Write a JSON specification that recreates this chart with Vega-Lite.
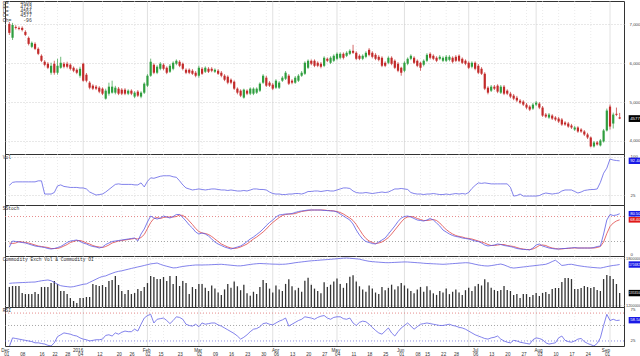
{
"$schema":"https://vega.github.io/schema/vega-lite/v6.json",
"padding":0,"spacing":0,"bounds":"flush","background":"white",
"config":{"view":{"stroke":"#333","strokeWidth":1},"axis":{"labelFont":"Liberation Sans","labelColor":"#444"}},
"datasets":{
"info":[{"k":"O=","v":"4608"},{"k":"H=","v":"4723"},{"k":"L=","v":"4561"},{"k":"C=","v":"4577"},{"k":"Ch=","v":"-96"}],
"t":[{"d":"2015-12-01","m":0},{"d":"2015-12-08","m":0},{"d":"2015-12-16","m":0},{"d":"2015-12-22","m":0},{"d":"2015-12-28","m":0},{"d":"2016-01-04","m":1},{"d":"2016-01-12","m":0},{"d":"2016-01-20","m":0},{"d":"2016-01-26","m":0},{"d":"2016-02-01","m":1},{"d":"2016-02-02","m":0},{"d":"2016-02-15","m":0},{"d":"2016-02-23","m":0},{"d":"2016-03-01","m":1},{"d":"2016-03-02","m":0},{"d":"2016-03-09","m":0},{"d":"2016-03-16","m":0},{"d":"2016-03-23","m":0},{"d":"2016-03-30","m":0},{"d":"2016-04-01","m":1},{"d":"2016-04-06","m":0},{"d":"2016-04-13","m":0},{"d":"2016-04-20","m":0},{"d":"2016-04-27","m":0},{"d":"2016-05-03","m":1},{"d":"2016-05-04","m":0},{"d":"2016-05-11","m":0},{"d":"2016-05-18","m":0},{"d":"2016-05-25","m":0},{"d":"2016-06-01","m":1},{"d":"2016-06-08","m":0},{"d":"2016-06-15","m":0},{"d":"2016-06-22","m":0},{"d":"2016-06-28","m":0},{"d":"2016-07-01","m":1},{"d":"2016-07-06","m":0},{"d":"2016-07-13","m":0},{"d":"2016-07-20","m":0},{"d":"2016-07-27","m":0},{"d":"2016-08-01","m":1},{"d":"2016-08-03","m":0},{"d":"2016-08-10","m":0},{"d":"2016-08-17","m":0},{"d":"2016-08-24","m":0},{"d":"2016-09-01","m":1}],
"p":[
{"d":"2015-12-01","o":7013,"h":7065,"l":6730,"c":6783,"hv":44,"k":14,"sd":22,"v":1430000,"oi":1477000,"r":16},
{"d":"2015-12-02","o":6654,"h":7040,"l":6600,"c":6988,"hv":50,"k":26,"sd":21,"v":1443000,"oi":1481000,"r":30},
{"d":"2015-12-03","o":6936,"h":6980,"l":6870,"c":6911,"hv":51,"k":25,"sd":22,"v":1443000,"oi":1483000,"r":29},
{"d":"2015-12-04","o":6911,"h":6950,"l":6850,"c":6885,"hv":51,"k":24,"sd":25,"v":1443000,"oi":1485000,"r":28},
{"d":"2015-12-07","o":6911,"h":6950,"l":6820,"c":6859,"hv":51,"k":23,"sd":24,"v":1354000,"oi":1487000,"r":27},
{"d":"2015-12-08","o":6808,"h":6850,"l":6700,"c":6731,"hv":51,"k":22,"sd":23,"v":1341000,"oi":1489000,"r":26},
{"d":"2015-12-09","o":6654,"h":6690,"l":6460,"c":6500,"hv":51,"k":20,"sd":22,"v":1341000,"oi":1491000,"r":25},
{"d":"2015-12-10","o":6424,"h":6560,"l":6390,"c":6526,"hv":51,"k":18,"sd":20,"v":1341000,"oi":1493000,"r":24},
{"d":"2015-12-11","o":6500,"h":6540,"l":6340,"c":6372,"hv":51,"k":16,"sd":18,"v":1367000,"oi":1494000,"r":22},
{"d":"2015-12-14","o":6372,"h":6410,"l":6210,"c":6244,"hv":53,"k":15,"sd":16,"v":1341000,"oi":1502000,"r":22},
{"d":"2015-12-15","o":6193,"h":6230,"l":6030,"c":6065,"hv":53,"k":14,"sd":15,"v":1430000,"oi":1510000,"r":21},
{"d":"2015-12-16","o":6039,"h":6080,"l":5920,"c":5962,"hv":27,"k":13,"sd":14,"v":1430000,"oi":1515000,"r":20},
{"d":"2015-12-17","o":5988,"h":6030,"l":5850,"c":5885,"hv":27,"k":11,"sd":13,"v":1430000,"oi":1520000,"r":18},
{"d":"2015-12-18","o":5757,"h":6015,"l":5706,"c":5936,"hv":27,"k":10,"sd":11,"v":1481000,"oi":1510000,"r":17},
{"d":"2015-12-21","o":5988,"h":6065,"l":5706,"c":5757,"hv":30,"k":11,"sd":11,"v":1507000,"oi":1490000,"r":22},
{"d":"2015-12-22","o":5757,"h":6116,"l":5706,"c":5936,"hv":43,"k":13,"sd":11,"v":1469000,"oi":1465000,"r":32},
{"d":"2015-12-23","o":5885,"h":6167,"l":5859,"c":6013,"hv":45,"k":15,"sd":13,"v":1380000,"oi":1447000,"r":35},
{"d":"2015-12-24","o":5988,"h":6030,"l":5870,"c":5911,"hv":42,"k":19,"sd":16,"v":1380000,"oi":1440000,"r":38},
{"d":"2015-12-25","o":5988,"h":6040,"l":5870,"c":5911,"hv":41,"k":23,"sd":19,"v":1341000,"oi":1435000,"r":37},
{"d":"2015-12-28","o":5962,"h":6000,"l":5820,"c":5859,"hv":40,"k":26,"sd":23,"v":1290000,"oi":1430000,"r":36},
{"d":"2015-12-29","o":5885,"h":5920,"l":5770,"c":5808,"hv":40,"k":27,"sd":25,"v":1252000,"oi":1435000,"r":34},
{"d":"2015-12-30","o":5834,"h":5870,"l":5720,"c":5757,"hv":40,"k":28,"sd":27,"v":1227000,"oi":1445000,"r":33},
{"d":"2015-12-31","o":5680,"h":5911,"l":5629,"c":5859,"hv":39,"k":25,"sd":27,"v":1290000,"oi":1455000,"r":30},
{"d":"2016-01-04","o":5988,"h":6013,"l":5526,"c":5552,"hv":39,"k":22,"sd":25,"v":1290000,"oi":1465000,"r":28},
{"d":"2016-01-05","o":5706,"h":5750,"l":5510,"c":5552,"hv":37,"k":20,"sd":22,"v":1303000,"oi":1470000,"r":27},
{"d":"2016-01-06","o":5501,"h":5540,"l":5330,"c":5372,"hv":31,"k":17,"sd":20,"v":1303000,"oi":1490000,"r":25},
{"d":"2016-01-07","o":5424,"h":5460,"l":5310,"c":5347,"hv":28,"k":15,"sd":17,"v":1469000,"oi":1510000,"r":26},
{"d":"2016-01-08","o":5398,"h":5440,"l":5310,"c":5347,"hv":25,"k":14,"sd":15,"v":1456000,"oi":1530000,"r":27},
{"d":"2016-01-11","o":5372,"h":5410,"l":5230,"c":5270,"hv":26,"k":12,"sd":14,"v":1443000,"oi":1550000,"r":27},
{"d":"2016-01-12","o":5347,"h":5380,"l":5180,"c":5218,"hv":27,"k":14,"sd":13,"v":1456000,"oi":1565000,"r":28},
{"d":"2016-01-13","o":5090,"h":5347,"l":5065,"c":5295,"hv":31,"k":19,"sd":15,"v":1430000,"oi":1572000,"r":34},
{"d":"2016-01-14","o":5218,"h":5501,"l":5167,"c":5398,"hv":36,"k":22,"sd":18,"v":1507000,"oi":1590000,"r":35},
{"d":"2016-01-15","o":5244,"h":5552,"l":5218,"c":5398,"hv":41,"k":25,"sd":22,"v":1520000,"oi":1605000,"r":33},
{"d":"2016-01-18","o":5244,"h":5420,"l":5200,"c":5372,"hv":46,"k":26,"sd":24,"v":1571000,"oi":1620000,"r":38},
{"d":"2016-01-19","o":5347,"h":5390,"l":5180,"c":5218,"hv":47,"k":27,"sd":26,"v":1456000,"oi":1630000,"r":36},
{"d":"2016-01-20","o":5321,"h":5360,"l":5180,"c":5218,"hv":46,"k":28,"sd":27,"v":1380000,"oi":1637000,"r":39},
{"d":"2016-01-21","o":5321,"h":5360,"l":5180,"c":5218,"hv":46,"k":29,"sd":28,"v":1341000,"oi":1647000,"r":41},
{"d":"2016-01-22","o":5218,"h":5330,"l":5180,"c":5295,"hv":46,"k":30,"sd":29,"v":1392000,"oi":1657000,"r":40},
{"d":"2016-01-25","o":5295,"h":5330,"l":5180,"c":5218,"hv":46,"k":31,"sd":30,"v":1341000,"oi":1667000,"r":40},
{"d":"2016-01-26","o":5142,"h":5280,"l":5100,"c":5244,"hv":45,"k":32,"sd":31,"v":1354000,"oi":1677000,"r":44},
{"d":"2016-01-27","o":5270,"h":5310,"l":5130,"c":5167,"hv":45,"k":26,"sd":30,"v":1405000,"oi":1686000,"r":41},
{"d":"2016-01-28","o":5142,"h":5280,"l":5100,"c":5244,"hv":49,"k":40,"sd":33,"v":1380000,"oi":1695000,"r":52},
{"d":"2016-01-29","o":5244,"h":5510,"l":5210,"c":5475,"hv":41,"k":50,"sd":39,"v":1430000,"oi":1705000,"r":62},
{"d":"2016-02-01","o":5424,"h":5720,"l":5390,"c":5680,"hv":52,"k":64,"sd":51,"v":1481000,"oi":1715000,"r":66},
{"d":"2016-02-02","o":5680,"h":6116,"l":5654,"c":6039,"hv":59,"k":76,"sd":63,"v":1571000,"oi":1725000,"r":68},
{"d":"2016-02-03","o":5962,"h":6000,"l":5720,"c":5757,"hv":58,"k":72,"sd":71,"v":1558000,"oi":1730000,"r":54},
{"d":"2016-02-04","o":5757,"h":5950,"l":5720,"c":5911,"hv":60,"k":70,"sd":73,"v":1532000,"oi":1736000,"r":60},
{"d":"2016-02-05","o":5859,"h":6030,"l":5820,"c":5988,"hv":62,"k":72,"sd":71,"v":1532000,"oi":1720000,"r":61},
{"d":"2016-02-15","o":5962,"h":6000,"l":5820,"c":5859,"hv":63,"k":76,"sd":73,"v":1558000,"oi":1706000,"r":62},
{"d":"2016-02-16","o":5885,"h":5920,"l":5720,"c":5757,"hv":63,"k":74,"sd":74,"v":1507000,"oi":1695000,"r":58},
{"d":"2016-02-17","o":5783,"h":5980,"l":5750,"c":5936,"hv":63,"k":72,"sd":74,"v":1571000,"oi":1684000,"r":53},
{"d":"2016-02-18","o":5859,"h":6050,"l":5820,"c":6013,"hv":61,"k":75,"sd":74,"v":1469000,"oi":1674000,"r":58},
{"d":"2016-02-19","o":5988,"h":6100,"l":5950,"c":6065,"hv":60,"k":79,"sd":75,"v":1571000,"oi":1676000,"r":64},
{"d":"2016-02-22","o":6039,"h":6080,"l":5900,"c":5936,"hv":53,"k":79,"sd":78,"v":1443000,"oi":1685000,"r":63},
{"d":"2016-02-23","o":5988,"h":6020,"l":5820,"c":5859,"hv":45,"k":73,"sd":77,"v":1507000,"oi":1692000,"r":60},
{"d":"2016-02-24","o":5834,"h":5870,"l":5720,"c":5757,"hv":39,"k":66,"sd":73,"v":1481000,"oi":1698000,"r":52},
{"d":"2016-02-25","o":5834,"h":5870,"l":5720,"c":5757,"hv":37,"k":58,"sd":66,"v":1341000,"oi":1703000,"r":50},
{"d":"2016-02-26","o":5808,"h":5850,"l":5700,"c":5731,"hv":35,"k":52,"sd":59,"v":1430000,"oi":1707000,"r":49},
{"d":"2016-02-29","o":5757,"h":5800,"l":5640,"c":5680,"hv":36,"k":44,"sd":51,"v":1405000,"oi":1711000,"r":52},
{"d":"2016-03-01","o":5680,"h":5936,"l":5629,"c":5885,"hv":37,"k":40,"sd":45,"v":1469000,"oi":1711000,"r":48},
{"d":"2016-03-02","o":5859,"h":5900,"l":5700,"c":5731,"hv":36,"k":42,"sd":42,"v":1469000,"oi":1711000,"r":54},
{"d":"2016-03-03","o":5783,"h":5920,"l":5750,"c":5885,"hv":35,"k":40,"sd":41,"v":1420000,"oi":1712000,"r":52},
{"d":"2016-03-04","o":5859,"h":5900,"l":5750,"c":5783,"hv":36,"k":36,"sd":39,"v":1380000,"oi":1713000,"r":53},
{"d":"2016-03-07","o":5859,"h":5900,"l":5770,"c":5808,"hv":37,"k":30,"sd":35,"v":1450000,"oi":1715000,"r":54},
{"d":"2016-03-08","o":5783,"h":5870,"l":5750,"c":5834,"hv":37,"k":24,"sd":30,"v":1410000,"oi":1717000,"r":54},
{"d":"2016-03-09","o":5808,"h":5850,"l":5700,"c":5731,"hv":36,"k":20,"sd":25,"v":1360000,"oi":1719000,"r":51},
{"d":"2016-03-10","o":5757,"h":5800,"l":5640,"c":5680,"hv":35,"k":17,"sd":20,"v":1330000,"oi":1720000,"r":49},
{"d":"2016-03-11","o":5680,"h":5720,"l":5540,"c":5577,"hv":35,"k":14,"sd":17,"v":1400000,"oi":1716000,"r":46},
{"d":"2016-03-14","o":5654,"h":5690,"l":5460,"c":5501,"hv":34,"k":12,"sd":14,"v":1470000,"oi":1712000,"r":43},
{"d":"2016-03-15","o":5577,"h":5610,"l":5460,"c":5501,"hv":35,"k":10,"sd":12,"v":1420000,"oi":1708000,"r":40},
{"d":"2016-03-16","o":5526,"h":5560,"l":5310,"c":5347,"hv":34,"k":12,"sd":11,"v":1500000,"oi":1704000,"r":37},
{"d":"2016-03-17","o":5347,"h":5380,"l":5200,"c":5244,"hv":33,"k":14,"sd":12,"v":1440000,"oi":1700000,"r":33},
{"d":"2016-03-18","o":5295,"h":5330,"l":5130,"c":5167,"hv":33,"k":16,"sd":14,"v":1390000,"oi":1700000,"r":28},
{"d":"2016-03-21","o":5116,"h":5347,"l":5090,"c":5321,"hv":34,"k":20,"sd":17,"v":1460000,"oi":1705000,"r":31},
{"d":"2016-03-22","o":5295,"h":5330,"l":5180,"c":5218,"hv":33,"k":25,"sd":20,"v":1350000,"oi":1712000,"r":35},
{"d":"2016-03-23","o":5218,"h":5380,"l":5180,"c":5347,"hv":35,"k":30,"sd":25,"v":1320000,"oi":1718000,"r":40},
{"d":"2016-03-24","o":5218,"h":5380,"l":5180,"c":5347,"hv":37,"k":34,"sd":30,"v":1370000,"oi":1723000,"r":44},
{"d":"2016-03-25","o":5244,"h":5380,"l":5210,"c":5347,"hv":37,"k":39,"sd":34,"v":1340000,"oi":1727000,"r":45},
{"d":"2016-03-28","o":5295,"h":5510,"l":5260,"c":5475,"hv":36,"k":44,"sd":39,"v":1430000,"oi":1730000,"r":48},
{"d":"2016-03-29","o":5501,"h":5720,"l":5470,"c":5680,"hv":36,"k":50,"sd":44,"v":1520000,"oi":1728000,"r":53},
{"d":"2016-03-30","o":5629,"h":5680,"l":5390,"c":5424,"hv":35,"k":57,"sd":50,"v":1480000,"oi":1726000,"r":54},
{"d":"2016-03-31","o":5501,"h":5540,"l":5390,"c":5424,"hv":31,"k":63,"sd":57,"v":1410000,"oi":1724000,"r":52},
{"d":"2016-04-01","o":5449,"h":5490,"l":5310,"c":5347,"hv":28,"k":68,"sd":63,"v":1360000,"oi":1722000,"r":51},
{"d":"2016-04-05","o":5372,"h":5590,"l":5340,"c":5552,"hv":27,"k":74,"sd":68,"v":1450000,"oi":1721000,"r":54},
{"d":"2016-04-06","o":5372,"h":5540,"l":5340,"c":5501,"hv":27,"k":78,"sd":73,"v":1400000,"oi":1720000,"r":57},
{"d":"2016-04-07","o":5552,"h":5670,"l":5520,"c":5629,"hv":26,"k":79,"sd":77,"v":1380000,"oi":1720000,"r":59},
{"d":"2016-04-08","o":5603,"h":5800,"l":5570,"c":5757,"hv":26,"k":80,"sd":79,"v":1470000,"oi":1722000,"r":62},
{"d":"2016-04-11","o":5680,"h":5720,"l":5440,"c":5475,"hv":27,"k":80,"sd":80,"v":1530000,"oi":1727000,"r":49},
{"d":"2016-04-12","o":5552,"h":5590,"l":5460,"c":5501,"hv":27,"k":81,"sd":80,"v":1440000,"oi":1733000,"r":52},
{"d":"2016-04-13","o":5501,"h":5670,"l":5470,"c":5629,"hv":28,"k":83,"sd":81,"v":1390000,"oi":1740000,"r":55},
{"d":"2016-04-14","o":5552,"h":5720,"l":5520,"c":5680,"hv":28,"k":85,"sd":83,"v":1420000,"oi":1745000,"r":58},
{"d":"2016-04-15","o":5680,"h":5800,"l":5650,"c":5757,"hv":27,"k":86,"sd":85,"v":1370000,"oi":1750000,"r":60},
{"d":"2016-04-18","o":5731,"h":6050,"l":5700,"c":6013,"hv":29,"k":87,"sd":86,"v":1510000,"oi":1755000,"r":64},
{"d":"2016-04-19","o":5885,"h":6100,"l":5850,"c":6065,"hv":32,"k":88,"sd":87,"v":1550000,"oi":1760000,"r":63},
{"d":"2016-04-20","o":6065,"h":6100,"l":5950,"c":5988,"hv":32,"k":88,"sd":88,"v":1460000,"oi":1764000,"r":62},
{"d":"2016-04-21","o":6065,"h":6100,"l":5900,"c":5936,"hv":33,"k":88,"sd":88,"v":1410000,"oi":1767000,"r":60},
{"d":"2016-04-22","o":6013,"h":6050,"l":5900,"c":5936,"hv":33,"k":88,"sd":88,"v":1380000,"oi":1770000,"r":63},
{"d":"2016-04-25","o":5988,"h":6030,"l":5870,"c":5911,"hv":32,"k":88,"sd":88,"v":1350000,"oi":1774000,"r":65},
{"d":"2016-04-26","o":5936,"h":6180,"l":5900,"c":6142,"hv":33,"k":87,"sd":88,"v":1490000,"oi":1777000,"r":66},
{"d":"2016-04-27","o":6116,"h":6150,"l":6030,"c":6065,"hv":34,"k":87,"sd":87,"v":1430000,"oi":1780000,"r":62},
{"d":"2016-04-28","o":6013,"h":6180,"l":5980,"c":6142,"hv":33,"k":86,"sd":87,"v":1460000,"oi":1783000,"r":60},
{"d":"2016-04-29","o":6065,"h":6230,"l":6030,"c":6193,"hv":33,"k":86,"sd":86,"v":1500000,"oi":1787000,"r":63},
{"d":"2016-05-03","o":6116,"h":6280,"l":6080,"c":6244,"hv":35,"k":84,"sd":85,"v":1540000,"oi":1790000,"r":64},
{"d":"2016-05-04","o":6142,"h":6280,"l":6100,"c":6244,"hv":37,"k":80,"sd":83,"v":1470000,"oi":1795000,"r":64},
{"d":"2016-05-05","o":6244,"h":6280,"l":6100,"c":6142,"hv":39,"k":76,"sd":80,"v":1420000,"oi":1798000,"r":61},
{"d":"2016-05-06","o":6193,"h":6310,"l":6160,"c":6270,"hv":39,"k":72,"sd":76,"v":1480000,"oi":1800000,"r":60},
{"d":"2016-05-09","o":6244,"h":6360,"l":6210,"c":6321,"hv":38,"k":68,"sd":72,"v":1560000,"oi":1797000,"r":62},
{"d":"2016-05-10","o":6321,"h":6475,"l":6240,"c":6270,"hv":33,"k":60,"sd":67,"v":1580000,"oi":1793000,"r":54},
{"d":"2016-05-11","o":6270,"h":6310,"l":6080,"c":6116,"hv":30,"k":48,"sd":59,"v":1500000,"oi":1790000,"r":50},
{"d":"2016-05-12","o":6193,"h":6230,"l":6080,"c":6116,"hv":29,"k":38,"sd":49,"v":1440000,"oi":1785000,"r":55},
{"d":"2016-05-13","o":6116,"h":6230,"l":6080,"c":6193,"hv":29,"k":30,"sd":39,"v":1400000,"oi":1775000,"r":57},
{"d":"2016-05-16","o":6167,"h":6310,"l":6130,"c":6270,"hv":30,"k":25,"sd":31,"v":1370000,"oi":1766000,"r":56},
{"d":"2016-05-17","o":6347,"h":6390,"l":6180,"c":6218,"hv":29,"k":23,"sd":26,"v":1450000,"oi":1758000,"r":52},
{"d":"2016-05-18","o":6270,"h":6310,"l":6130,"c":6167,"hv":28,"k":21,"sd":23,"v":1410000,"oi":1754000,"r":47},
{"d":"2016-05-19","o":6218,"h":6260,"l":6080,"c":6116,"hv":29,"k":20,"sd":21,"v":1360000,"oi":1750000,"r":42},
{"d":"2016-05-20","o":6167,"h":6210,"l":6050,"c":6090,"hv":30,"k":24,"sd":22,"v":1340000,"oi":1747000,"r":38},
{"d":"2016-05-23","o":6142,"h":6180,"l":5900,"c":5936,"hv":31,"k":28,"sd":24,"v":1430000,"oi":1744000,"r":36},
{"d":"2016-05-24","o":6013,"h":6050,"l":5900,"c":5936,"hv":30,"k":32,"sd":28,"v":1390000,"oi":1741000,"r":41},
{"d":"2016-05-25","o":6013,"h":6180,"l":5980,"c":6142,"hv":31,"k":40,"sd":33,"v":1420000,"oi":1740000,"r":46},
{"d":"2016-05-26","o":6142,"h":6180,"l":5950,"c":5988,"hv":34,"k":48,"sd":40,"v":1460000,"oi":1742000,"r":38},
{"d":"2016-05-27","o":6065,"h":6100,"l":5850,"c":5885,"hv":37,"k":56,"sd":48,"v":1400000,"oi":1744000,"r":33},
{"d":"2016-05-30","o":5988,"h":6030,"l":5770,"c":5808,"hv":37,"k":65,"sd":56,"v":1440000,"oi":1746000,"r":40},
{"d":"2016-05-31","o":5885,"h":5911,"l":5680,"c":5757,"hv":38,"k":72,"sd":64,"v":1480000,"oi":1748000,"r":46},
{"d":"2016-06-01","o":5808,"h":6050,"l":5770,"c":6013,"hv":37,"k":75,"sd":71,"v":1450000,"oi":1750000,"r":50},
{"d":"2016-06-02","o":5988,"h":6150,"l":5950,"c":6116,"hv":36,"k":76,"sd":74,"v":1410000,"oi":1749000,"r":54},
{"d":"2016-06-03","o":6116,"h":6230,"l":6080,"c":6193,"hv":30,"k":74,"sd":75,"v":1380000,"oi":1746000,"r":49},
{"d":"2016-06-06","o":6142,"h":6180,"l":5980,"c":6013,"hv":28,"k":71,"sd":74,"v":1350000,"oi":1743000,"r":44},
{"d":"2016-06-07","o":6065,"h":6100,"l":5900,"c":5936,"hv":27,"k":68,"sd":71,"v":1400000,"oi":1740000,"r":48},
{"d":"2016-06-08","o":6013,"h":6039,"l":5808,"c":5885,"hv":27,"k":67,"sd":69,"v":1430000,"oi":1737000,"r":52},
{"d":"2016-06-13","o":5962,"h":6100,"l":5920,"c":6065,"hv":26,"k":66,"sd":67,"v":1370000,"oi":1733000,"r":53},
{"d":"2016-06-14","o":6065,"h":6260,"l":6030,"c":6218,"hv":27,"k":68,"sd":67,"v":1440000,"oi":1730000,"r":54},
{"d":"2016-06-15","o":6244,"h":6280,"l":6100,"c":6142,"hv":27,"k":71,"sd":68,"v":1390000,"oi":1728000,"r":53},
{"d":"2016-06-16","o":6193,"h":6230,"l":6080,"c":6116,"hv":28,"k":68,"sd":69,"v":1350000,"oi":1726000,"r":52},
{"d":"2016-06-17","o":6142,"h":6180,"l":6030,"c":6065,"hv":27,"k":62,"sd":67,"v":1330000,"oi":1724000,"r":51},
{"d":"2016-06-20","o":6116,"h":6210,"l":6080,"c":6167,"hv":26,"k":56,"sd":62,"v":1380000,"oi":1722000,"r":50},
{"d":"2016-06-21","o":6065,"h":6180,"l":6030,"c":6142,"hv":26,"k":48,"sd":55,"v":1360000,"oi":1720000,"r":50},
{"d":"2016-06-22","o":6065,"h":6210,"l":6030,"c":6167,"hv":27,"k":44,"sd":49,"v":1410000,"oi":1722000,"r":51},
{"d":"2016-06-23","o":6090,"h":6210,"l":6050,"c":6167,"hv":26,"k":40,"sd":44,"v":1340000,"oi":1725000,"r":52},
{"d":"2016-06-24","o":6142,"h":6180,"l":6000,"c":6039,"hv":27,"k":37,"sd":40,"v":1370000,"oi":1728000,"r":50},
{"d":"2016-06-27","o":6167,"h":6210,"l":6030,"c":6065,"hv":28,"k":35,"sd":37,"v":1400000,"oi":1731000,"r":49},
{"d":"2016-06-28","o":6193,"h":6230,"l":6030,"c":6065,"hv":27,"k":34,"sd":35,"v":1360000,"oi":1734000,"r":47},
{"d":"2016-06-29","o":6116,"h":6150,"l":5980,"c":6013,"hv":28,"k":32,"sd":34,"v":1330000,"oi":1737000,"r":46},
{"d":"2016-06-30","o":6065,"h":6100,"l":5950,"c":5988,"hv":27,"k":31,"sd":32,"v":1390000,"oi":1740000,"r":44},
{"d":"2016-07-01","o":6013,"h":6050,"l":5850,"c":5885,"hv":30,"k":30,"sd":31,"v":1420000,"oi":1738000,"r":41},
{"d":"2016-07-04","o":5911,"h":6050,"l":5870,"c":6013,"hv":38,"k":28,"sd":30,"v":1380000,"oi":1730000,"r":38},
{"d":"2016-07-05","o":6013,"h":6050,"l":5820,"c":5859,"hv":44,"k":26,"sd":28,"v":1440000,"oi":1720000,"r":35},
{"d":"2016-07-06","o":5936,"h":5980,"l":5720,"c":5757,"hv":49,"k":25,"sd":26,"v":1470000,"oi":1712000,"r":33},
{"d":"2016-07-07","o":5859,"h":5900,"l":5700,"c":5731,"hv":48,"k":22,"sd":24,"v":1450000,"oi":1705000,"r":31},
{"d":"2016-07-08","o":5731,"h":5770,"l":5310,"c":5347,"hv":49,"k":18,"sd":22,"v":1530000,"oi":1700000,"r":29},
{"d":"2016-07-11","o":5372,"h":5410,"l":5200,"c":5244,"hv":48,"k":16,"sd":19,"v":1490000,"oi":1698000,"r":28},
{"d":"2016-07-12","o":5295,"h":5440,"l":5260,"c":5398,"hv":47,"k":17,"sd":17,"v":1420000,"oi":1703000,"r":30},
{"d":"2016-07-13","o":5398,"h":5440,"l":5310,"c":5347,"hv":47,"k":18,"sd":17,"v":1392000,"oi":1710000,"r":31},
{"d":"2016-07-14","o":5424,"h":5460,"l":5230,"c":5270,"hv":47,"k":20,"sd":18,"v":1380000,"oi":1717000,"r":33},
{"d":"2016-07-15","o":5244,"h":5440,"l":5210,"c":5398,"hv":47,"k":19,"sd":19,"v":1392000,"oi":1723000,"r":28},
{"d":"2016-07-18","o":5398,"h":5440,"l":5180,"c":5218,"hv":47,"k":17,"sd":19,"v":1443000,"oi":1712000,"r":25},
{"d":"2016-07-19","o":5295,"h":5330,"l":5180,"c":5218,"hv":47,"k":16,"sd":17,"v":1392000,"oi":1695000,"r":23},
{"d":"2016-07-20","o":5218,"h":5260,"l":5100,"c":5142,"hv":40,"k":15,"sd":16,"v":1380000,"oi":1679000,"r":22},
{"d":"2016-07-21","o":5167,"h":5210,"l":5050,"c":5090,"hv":23,"k":13,"sd":15,"v":1329000,"oi":1672000,"r":26},
{"d":"2016-07-22","o":5116,"h":5160,"l":5000,"c":5039,"hv":24,"k":11,"sd":13,"v":1341000,"oi":1676000,"r":25},
{"d":"2016-07-25","o":5039,"h":5080,"l":4950,"c":4988,"hv":27,"k":10,"sd":11,"v":1290000,"oi":1681000,"r":23},
{"d":"2016-07-26","o":5013,"h":5050,"l":4900,"c":4936,"hv":23,"k":9,"sd":10,"v":1341000,"oi":1686000,"r":22},
{"d":"2016-07-27","o":4936,"h":4980,"l":4820,"c":4860,"hv":23,"k":9,"sd":9,"v":1341000,"oi":1690000,"r":21},
{"d":"2016-07-28","o":4885,"h":4920,"l":4770,"c":4808,"hv":23,"k":8,"sd":9,"v":1303000,"oi":1696000,"r":20},
{"d":"2016-07-29","o":4834,"h":4980,"l":4800,"c":4936,"hv":23,"k":12,"sd":10,"v":1329000,"oi":1700000,"r":27},
{"d":"2016-08-01","o":4936,"h":5030,"l":4900,"c":4988,"hv":23,"k":18,"sd":13,"v":1354000,"oi":1705000,"r":30},
{"d":"2016-08-02","o":4962,"h":5000,"l":4820,"c":4860,"hv":24,"k":20,"sd":17,"v":1316000,"oi":1710000,"r":29},
{"d":"2016-08-03","o":4860,"h":4900,"l":4620,"c":4654,"hv":27,"k":16,"sd":18,"v":1354000,"oi":1715000,"r":27},
{"d":"2016-08-04","o":4680,"h":4720,"l":4590,"c":4629,"hv":29,"k":14,"sd":17,"v":1367000,"oi":1720000,"r":22},
{"d":"2016-08-05","o":4603,"h":4720,"l":4570,"c":4680,"hv":28,"k":12,"sd":14,"v":1341000,"oi":1735000,"r":20},
{"d":"2016-08-08","o":4654,"h":4690,"l":4540,"c":4577,"hv":27,"k":11,"sd":12,"v":1405000,"oi":1755000,"r":21},
{"d":"2016-08-09","o":4603,"h":4640,"l":4510,"c":4552,"hv":28,"k":10,"sd":11,"v":1418000,"oi":1772000,"r":22},
{"d":"2016-08-10","o":4577,"h":4620,"l":4460,"c":4501,"hv":29,"k":10,"sd":10,"v":1418000,"oi":1740000,"r":30},
{"d":"2016-08-11","o":4552,"h":4590,"l":4390,"c":4424,"hv":33,"k":11,"sd":10,"v":1494000,"oi":1705000,"r":33},
{"d":"2016-08-12","o":4475,"h":4510,"l":4390,"c":4424,"hv":35,"k":11,"sd":11,"v":1545000,"oi":1710000,"r":26},
{"d":"2016-08-15","o":4449,"h":4490,"l":4340,"c":4372,"hv":35,"k":12,"sd":11,"v":1545000,"oi":1718000,"r":24},
{"d":"2016-08-16","o":4398,"h":4440,"l":4310,"c":4347,"hv":35,"k":12,"sd":12,"v":1532000,"oi":1720000,"r":23},
{"d":"2016-08-17","o":4295,"h":4390,"l":4260,"c":4347,"hv":32,"k":13,"sd":12,"v":1405000,"oi":1712000,"r":25},
{"d":"2016-08-18","o":4347,"h":4380,"l":4210,"c":4244,"hv":29,"k":12,"sd":12,"v":1405000,"oi":1703000,"r":28},
{"d":"2016-08-19","o":4295,"h":4330,"l":4210,"c":4244,"hv":31,"k":12,"sd":12,"v":1418000,"oi":1697000,"r":29},
{"d":"2016-08-22","o":4244,"h":4280,"l":4130,"c":4167,"hv":34,"k":12,"sd":12,"v":1443000,"oi":1691000,"r":24},
{"d":"2016-08-23","o":4167,"h":4210,"l":4050,"c":4090,"hv":35,"k":12,"sd":12,"v":1430000,"oi":1686000,"r":21},
{"d":"2016-08-24","o":4090,"h":4115,"l":3835,"c":3860,"hv":36,"k":12,"sd":12,"v":1418000,"oi":1682000,"r":19},
{"d":"2016-08-25","o":3860,"h":4000,"l":3830,"c":3962,"hv":36,"k":13,"sd":12,"v":1430000,"oi":1678000,"r":17},
{"d":"2016-08-26","o":3962,"h":4000,"l":3880,"c":3911,"hv":37,"k":15,"sd":13,"v":1392000,"oi":1675000,"r":21},
{"d":"2016-08-29","o":3885,"h":4050,"l":3860,"c":4013,"hv":50,"k":16,"sd":15,"v":1380000,"oi":1672000,"r":30},
{"d":"2016-08-30","o":3988,"h":4310,"l":3960,"c":4270,"hv":68,"k":40,"sd":24,"v":1532000,"oi":1680000,"r":50},
{"d":"2016-08-31","o":4270,"h":4834,"l":4244,"c":4783,"hv":78,"k":68,"sd":41,"v":1583000,"oi":1690000,"r":68},
{"d":"2016-09-01","o":4885,"h":4936,"l":4295,"c":4372,"hv":96,"k":79,"sd":55,"v":1571000,"oi":1698000,"r":58},
{"d":"2016-09-02","o":4449,"h":4730,"l":4321,"c":4680,"hv":94,"k":77,"sd":62,"v":1532000,"oi":1705000,"r":60},
{"d":"2016-09-05","o":4700,"h":4860,"l":4640,"c":4673,"hv":93,"k":78,"sd":66,"v":1469000,"oi":1710000,"r":58},
{"d":"2016-09-06","o":4608,"h":4723,"l":4561,"c":4577,"hv":92.44,"k":80.5,"sd":68.4,"v":1353100,"oi":1716820,"r":58.54}
]},
"vconcat":[
{"width":619,"height":153,
 "layer":[
  {"layer":[
   {"data":{"name":"t"},"mark":{"type":"rule","strokeWidth":0.6},"encoding":{"x":{"field":"d","type":"ordinal","scale":{"paddingInner":0.3,"paddingOuter":2},"axis":null},"color":{"condition":{"test":"datum.m == 1","value":"#cccccc"},"value":"#dddddd"},"strokeDash":{"condition":{"test":"datum.m == 1","value":[1,0]},"value":[1,2]}}},
   {"data":{"name":"p"},"mark":{"type":"rule","strokeWidth":0.7},"encoding":{"x":{"field":"d","type":"ordinal","scale":{"paddingInner":0.3,"paddingOuter":2},"axis":null},"y":{"field":"l","type":"quantitative","scale":{"domain":[3665,7603],"nice":false,"zero":false},"axis":{"orient":"right","values":[4000,4500,5000,5500,6000,6500,7000,7500],"grid":true,"gridDash":[1,2],"gridColor":"#c4c4c4","gridWidth":0.8,"labelFontSize":4.4,"labelPadding":5,"ticks":false,"domain":false,"title":null}},"y2":{"field":"h"},"color":{"condition":{"test":"datum.c >= datum.o","value":"#2f9e3f"},"value":"#c22a2a"}}},
   {"data":{"name":"p"},"mark":{"type":"bar","width":2.2},"encoding":{"x":{"field":"d","type":"ordinal","scale":{"paddingInner":0.3,"paddingOuter":2},"axis":null},"y":{"field":"o","type":"quantitative"},"y2":{"field":"c"},"color":{"condition":{"test":"datum.c >= datum.o","value":"#2f9e3f"},"value":"#c22a2a"}}},
   {"data":{"name":"p"},"transform":[{"filter":"datum.d == '2016-09-06'"}],"mark":{"type":"point","shape":"M0.9,-0.34H2.75V0.34H0.9Z","size":400,"filled":true,"opacity":1,"color":"#000000"},"encoding":{"x":{"field":"d","type":"ordinal","axis":null},"y":{"field":"c","type":"quantitative"}}},
   {"data":{"name":"p"},"transform":[{"filter":"datum.d == '2016-09-06'"}],"mark":{"type":"text","align":"left","dx":10.5,"font":"Liberation Sans","fontSize":4.4,"color":"#ffffff"},"encoding":{"x":{"field":"d","type":"ordinal","axis":null},"y":{"field":"c","type":"quantitative"},"text":{"field":"c","type":"quantitative","format":"d"}}}
  ]},
  {"data":{"name":"info"},"mark":{"type":"text","align":"left","dx":-6.5,"font":"Liberation Mono","fontSize":4.8,"color":"#333333"},"encoding":{"x":{"datum":"2015-12-01","type":"ordinal","axis":null},"y":{"field":"k","type":"ordinal","scale":{"domain":["O=","H=","L=","C=","Ch="],"range":[2.5,19.5],"padding":0},"axis":null},"text":{"field":"k"}}},
  {"data":{"name":"info"},"mark":{"type":"text","align":"right","dx":22.5,"font":"Liberation Mono","fontSize":4.8,"color":"#333333"},"encoding":{"x":{"datum":"2015-12-01","type":"ordinal","axis":null},"y":{"field":"k","type":"ordinal","scale":{"domain":["O=","H=","L=","C=","Ch="],"range":[2.5,19.5],"padding":0},"axis":null},"text":{"field":"v"}}}
 ],
 "resolve":{"scale":{"y":"independent"}}
},
{"width":619,"height":51,
 "layer":[
  {"data":{"name":"t"},"mark":{"type":"rule","strokeWidth":0.6},"encoding":{"x":{"field":"d","type":"ordinal","scale":{"paddingInner":0.3,"paddingOuter":2},"axis":null},"color":{"condition":{"test":"datum.m == 1","value":"#cccccc"},"value":"#dddddd"},"strokeDash":{"condition":{"test":"datum.m == 1","value":[1,0]},"value":[1,2]}}},
  {"data":{"name":"p"},"mark":{"type":"line","strokeWidth":0.8,"color":"#6262e6","clip":true},"encoding":{"x":{"field":"d","type":"ordinal","scale":{"paddingInner":0.3,"paddingOuter":2},"axis":null},"y":{"field":"hv","type":"quantitative","scale":{"domain":[5.4,105.9],"nice":false,"zero":false},"axis":{"orient":"right","values":[25,50,75,100],"grid":true,"gridDash":[1,2],"gridColor":"#c4c4c4","gridWidth":0.8,"labelFontSize":4.4,"labelPadding":6,"ticks":false,"domain":false,"title":null}}}},
  {"data":{"values":[{"t":"Vol"}]},"mark":{"type":"text","align":"left","baseline":"top","dx":-6.5,"dy":1,"font":"Liberation Mono","fontSize":4.6,"color":"#333333"},"encoding":{"x":{"datum":"2015-12-01","type":"ordinal","axis":null},"y":{"datum":105.9,"type":"quantitative"},"text":{"field":"t"}}},
  {"data":{"name":"p"},"transform":[{"filter":"datum.d == '2016-09-06'"}],"mark":{"type":"point","shape":"M0.9,-0.32H2.75V0.32H0.9Z","size":400,"filled":true,"opacity":1,"color":"#1a1ae6"},"encoding":{"x":{"field":"d","type":"ordinal","axis":null},"y":{"field":"hv","type":"quantitative"}}},
  {"data":{"name":"p"},"transform":[{"filter":"datum.d == '2016-09-06'"}],"mark":{"type":"text","align":"left","dx":10.5,"font":"Liberation Sans","fontSize":4.3,"color":"#ffffff"},"encoding":{"x":{"field":"d","type":"ordinal","axis":null},"y":{"field":"hv","type":"quantitative"},"text":{"field":"hv","type":"quantitative","format":".2f"}}}
 ]
},
{"width":619,"height":51,
 "layer":[
  {"data":{"name":"t"},"mark":{"type":"rule","strokeWidth":0.6},"encoding":{"x":{"field":"d","type":"ordinal","scale":{"paddingInner":0.3,"paddingOuter":2},"axis":null},"color":{"condition":{"test":"datum.m == 1","value":"#cccccc"},"value":"#dddddd"},"strokeDash":{"condition":{"test":"datum.m == 1","value":[1,0]},"value":[1,2]}}},
  {"data":{"values":[{}]},"mark":{"type":"rule","strokeDash":[1,2],"color":"#e07070","strokeWidth":0.8},"encoding":{"y":{"datum":75,"type":"quantitative"}}},
  {"data":{"values":[{}]},"mark":{"type":"rule","strokeDash":[1,2],"color":"#909090","strokeWidth":0.8},"encoding":{"y":{"datum":25,"type":"quantitative"}}},
  {"data":{"name":"p"},"mark":{"type":"line","strokeWidth":0.8,"color":"#e04848","clip":true},"encoding":{"x":{"field":"d","type":"ordinal","scale":{"paddingInner":0.3,"paddingOuter":2},"axis":null},"y":{"field":"sd","type":"quantitative"}}},
  {"data":{"name":"p"},"mark":{"type":"line","strokeWidth":0.8,"color":"#5a5ae6","clip":true},"encoding":{"x":{"field":"d","type":"ordinal","scale":{"paddingInner":0.3,"paddingOuter":2},"axis":null},"y":{"field":"k","type":"quantitative","scale":{"domain":[-4,98],"nice":false,"zero":false},"axis":{"orient":"right","values":[0,25,50,75],"grid":false,"labelFontSize":4.4,"labelPadding":6,"ticks":false,"domain":false,"title":null}}}},
  {"data":{"values":[{"t":"SStoch"}]},"mark":{"type":"text","align":"left","baseline":"top","dx":-6.5,"dy":1,"font":"Liberation Mono","fontSize":4.6,"color":"#333333"},"encoding":{"x":{"datum":"2015-12-01","type":"ordinal","axis":null},"y":{"datum":98,"type":"quantitative"},"text":{"field":"t"}}},
  {"data":{"name":"p"},"transform":[{"filter":"datum.d == '2016-09-06'"}],"mark":{"type":"point","shape":"M0.9,-0.28H2.75V0.28H0.9Z","size":400,"filled":true,"opacity":1,"color":"#1a1ae6"},"encoding":{"x":{"field":"d","type":"ordinal","axis":null},"y":{"field":"k","type":"quantitative"}}},
  {"data":{"name":"p"},"transform":[{"filter":"datum.d == '2016-09-06'"}],"mark":{"type":"text","align":"left","dx":10.5,"font":"Liberation Sans","fontSize":4.1,"color":"#ffffff"},"encoding":{"x":{"field":"d","type":"ordinal","axis":null},"y":{"field":"k","type":"quantitative"},"text":{"field":"k","type":"quantitative","format":".2f"}}},
  {"data":{"name":"p"},"transform":[{"filter":"datum.d == '2016-09-06'"}],"mark":{"type":"point","shape":"M0.9,-0.28H2.75V0.28H0.9Z","size":400,"filled":true,"opacity":1,"color":"#e01818"},"encoding":{"x":{"field":"d","type":"ordinal","axis":null},"y":{"field":"sd","type":"quantitative"}}},
  {"data":{"name":"p"},"transform":[{"filter":"datum.d == '2016-09-06'"}],"mark":{"type":"text","align":"left","dx":10.5,"font":"Liberation Sans","fontSize":4.1,"color":"#ffffff"},"encoding":{"x":{"field":"d","type":"ordinal","axis":null},"y":{"field":"sd","type":"quantitative"},"text":{"field":"sd","type":"quantitative","format":".2f"}}}
 ]
},
{"width":619,"height":51,
 "layer":[
  {"data":{"name":"t"},"mark":{"type":"rule","strokeWidth":0.6},"encoding":{"x":{"field":"d","type":"ordinal","scale":{"paddingInner":0.3,"paddingOuter":2},"axis":null},"color":{"condition":{"test":"datum.m == 1","value":"#cccccc"},"value":"#dddddd"},"strokeDash":{"condition":{"test":"datum.m == 1","value":[1,0]},"value":[1,2]}}},
  {"data":{"name":"p"},"mark":{"type":"bar","width":1.3,"color":"#333333","clip":true},"encoding":{"x":{"field":"d","type":"ordinal","scale":{"paddingInner":0.3,"paddingOuter":2},"axis":null},"y":{"field":"v","type":"quantitative","scale":{"domain":[1175800,1825500],"nice":false,"zero":false},"axis":{"orient":"right","values":[1200000,1400000,1600000,1800000],"format":"d","grid":true,"gridDash":[1,2],"gridColor":"#c4c4c4","gridWidth":0.8,"labelFontSize":3.9,"labelPadding":1.5,"ticks":false,"domain":false,"title":null}}}},
  {"data":{"name":"p"},"mark":{"type":"line","strokeWidth":0.8,"color":"#6262e6","clip":true},"encoding":{"x":{"field":"d","type":"ordinal","scale":{"paddingInner":0.3,"paddingOuter":2},"axis":null},"y":{"field":"oi","type":"quantitative"}}},
  {"data":{"values":[{"t":"Commodity Exch Vol & Commodity OI"}]},"mark":{"type":"text","align":"left","baseline":"top","dx":-6.5,"dy":1,"font":"Liberation Mono","fontSize":4.6,"color":"#333333"},"encoding":{"x":{"datum":"2015-12-01","type":"ordinal","axis":null},"y":{"datum":1825500,"type":"quantitative"},"text":{"field":"t"}}},
  {"data":{"name":"p"},"transform":[{"filter":"datum.d == '2016-09-06'"}],"mark":{"type":"point","shape":"M0.9,-0.32H2.75V0.32H0.9Z","size":400,"filled":true,"opacity":1,"color":"#1a1ae6"},"encoding":{"x":{"field":"d","type":"ordinal","axis":null},"y":{"field":"oi","type":"quantitative"}}},
  {"data":{"name":"p"},"transform":[{"filter":"datum.d == '2016-09-06'"}],"mark":{"type":"text","align":"left","dx":9.3,"font":"Liberation Sans","fontSize":3.3,"color":"#ffffff"},"encoding":{"x":{"field":"d","type":"ordinal","axis":null},"y":{"field":"oi","type":"quantitative"},"text":{"field":"oi","type":"quantitative","format":"d"}}},
  {"data":{"name":"p"},"transform":[{"filter":"datum.d == '2016-09-06'"}],"mark":{"type":"point","shape":"M0.9,-0.32H2.75V0.32H0.9Z","size":400,"filled":true,"opacity":1,"color":"#000000"},"encoding":{"x":{"field":"d","type":"ordinal","axis":null},"y":{"field":"v","type":"quantitative"}}},
  {"data":{"name":"p"},"transform":[{"filter":"datum.d == '2016-09-06'"}],"mark":{"type":"text","align":"left","dx":9.3,"font":"Liberation Sans","fontSize":3.3,"color":"#ffffff"},"encoding":{"x":{"field":"d","type":"ordinal","axis":null},"y":{"field":"v","type":"quantitative"},"text":{"field":"v","type":"quantitative","format":"d"}}}
 ]
},
{"width":619,"height":39,
 "layer":[
  {"data":{"name":"t"},"mark":{"type":"rule","strokeWidth":0.6},"encoding":{"x":{"field":"d","type":"ordinal","scale":{"paddingInner":0.3,"paddingOuter":2}},"color":{"condition":{"test":"datum.m == 1","value":"#cccccc"},"value":"#dddddd"},"strokeDash":{"condition":{"test":"datum.m == 1","value":[1,0]},"value":[1,2]}}},
  {"data":{"values":[{}]},"mark":{"type":"rule","strokeDash":[1,2],"color":"#e07070","strokeWidth":0.8},"encoding":{"y":{"datum":70,"type":"quantitative"}}},
  {"data":{"values":[{}]},"mark":{"type":"rule","strokeDash":[1,2],"color":"#909090","strokeWidth":0.8},"encoding":{"y":{"datum":50,"type":"quantitative"}}},
  {"data":{"values":[{}]},"mark":{"type":"rule","strokeDash":[1,2],"color":"#7070e0","strokeWidth":0.8},"encoding":{"y":{"datum":25,"type":"quantitative"}}},
  {"data":{"name":"p"},"mark":{"type":"line","strokeWidth":0.8,"color":"#6262e6","clip":true},"encoding":{"x":{"field":"d","type":"ordinal","scale":{"paddingInner":0.3,"paddingOuter":2},"axis":{"orient":"bottom","values":["2015-12-01","2015-12-08","2015-12-16","2015-12-22","2015-12-28","2016-01-04","2016-01-12","2016-01-20","2016-01-26","2016-02-02","2016-02-15","2016-02-23","2016-03-02","2016-03-09","2016-03-16","2016-03-23","2016-03-30","2016-04-06","2016-04-13","2016-04-20","2016-04-27","2016-05-04","2016-05-11","2016-05-18","2016-05-25","2016-06-01","2016-06-08","2016-06-15","2016-06-22","2016-06-28","2016-07-06","2016-07-13","2016-07-20","2016-07-27","2016-08-03","2016-08-10","2016-08-17","2016-08-24","2016-09-01"],"labelExpr":"parseInt(substring(datum.value,8,10)) <= 7 ? [substring(datum.value,5,7) == '01' ? '2016' : ['Jan','Feb','Mar','Apr','May','Jun','Jul','Aug','Sep','Oct','Nov','Dec'][parseInt(substring(datum.value,5,7)) - 1], substring(datum.value,8,10)] : ['', substring(datum.value,8,10)]","labelFont":"Liberation Sans","labelFontSize":4.6,"labelColor":"#333333","labelLineHeight":4.8,"labelPadding":1,"labelAngle":0,"labelBaseline":"top","labelOverlap":false,"labelBound":false,"ticks":false,"domain":false,"grid":false,"title":null}},"y":{"field":"r","type":"quantitative","scale":{"domain":[16.9,79.8],"nice":false,"zero":false},"axis":{"orient":"right","values":[25,50,75],"grid":false,"labelFontSize":4.4,"labelPadding":6,"ticks":false,"domain":false,"title":null}}}},
  {"data":{"values":[{"t":"RSI"}]},"mark":{"type":"text","align":"left","baseline":"top","dx":-6.5,"dy":1,"font":"Liberation Mono","fontSize":4.6,"color":"#333333"},"encoding":{"x":{"datum":"2015-12-01","type":"ordinal"},"y":{"datum":79.8,"type":"quantitative"},"text":{"field":"t"}}},
  {"data":{"name":"p"},"transform":[{"filter":"datum.d == '2016-09-06'"}],"mark":{"type":"point","shape":"M0.9,-0.32H2.75V0.32H0.9Z","size":400,"filled":true,"opacity":1,"color":"#1a1ae6"},"encoding":{"x":{"field":"d","type":"ordinal"},"y":{"field":"r","type":"quantitative"}}},
  {"data":{"name":"p"},"transform":[{"filter":"datum.d == '2016-09-06'"}],"mark":{"type":"text","align":"left","dx":10.5,"font":"Liberation Sans","fontSize":4.3,"color":"#ffffff"},"encoding":{"x":{"field":"d","type":"ordinal"},"y":{"field":"r","type":"quantitative"},"text":{"field":"r","type":"quantitative","format":".2f"}}}
 ]
}
]
}
